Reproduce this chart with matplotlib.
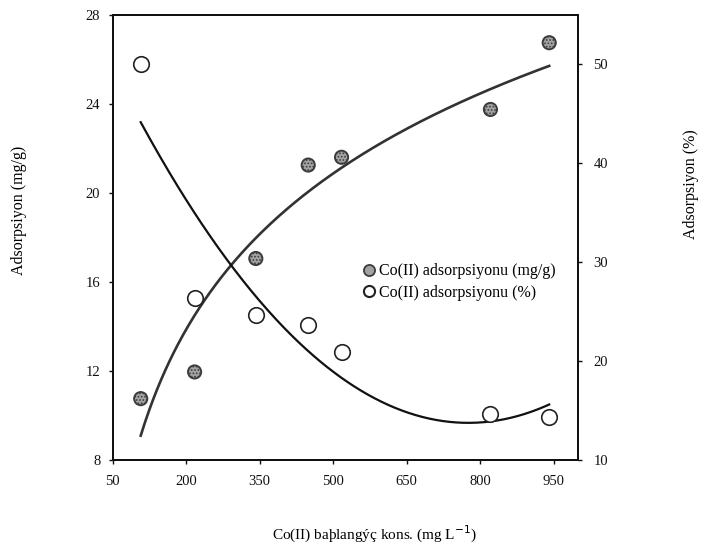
import numpy as np
import matplotlib
matplotlib.use("Agg")
import matplotlib.pyplot as plt
from matplotlib.lines import Line2D

plt.rcParams['font.family'] = ['Liberation Serif', 'DejaVu Serif']
plt.rcParams['hatch.linewidth'] = 0.8

# Initial Co(II) concentration (mg/L)
conc = [107, 217, 342, 449, 517, 821, 941]
# Adsorbed amount (mg/g), left axis
uptake_mg_g = [10.75, 11.95, 17.05, 21.25, 21.6, 23.75, 26.75]
# Adsorption percentage, right axis
uptake_pct = [50.0, 26.4, 24.6, 23.6, 20.9, 14.6, 14.3]

x_ticks = [50, 200, 350, 500, 650, 800, 950]
left_ticks = [8, 12, 16, 20, 24, 28]
right_ticks = [10, 20, 30, 40, 50]

fig = plt.figure(figsize=(7.05, 5.52), dpi=100)
ax = fig.add_axes([0.160, 0.167, 0.660, 0.806])
ax2 = ax.twinx()

# Trend lines: logarithmic for the uptake, second order for the percentage
xs = np.linspace(min(conc), max(conc), 300)
log_coef = np.polyfit(np.log(conc), uptake_mg_g, 1)
fit_mg = np.polyval(log_coef, np.log(xs))
fit_pct = np.polyval(np.polyfit(conc, uptake_pct, 2), xs)

ax.plot(xs, fit_mg, color='#333333', lw=1.9, zorder=2)
ax2.plot(xs, fit_pct, color='#111111', lw=1.6, zorder=2)

ax.scatter(conc, uptake_mg_g, s=90, facecolor='#a2a2a2', edgecolor='#3c3c3c',
           linewidth=1.4, hatch='.....', zorder=3)
ax2.scatter(conc, uptake_pct, s=125, facecolor='white', edgecolor='#222222',
            linewidth=1.2, zorder=3)

ax.set_xlim(50, 1000)
ax.set_ylim(8, 28)
ax2.set_ylim(10, 55)
ax.set_xticks(x_ticks)
ax.set_yticks(left_ticks)
ax2.set_yticks(right_ticks)

for a in (ax, ax2):
    for sp in a.spines.values():
        sp.set_linewidth(1.4)
        sp.set_color('#111111')
    a.tick_params(direction='out', length=3, width=1.0, labelsize=10.5,
                  colors='#111111')
ax.tick_params(axis='x', pad=8)
ax.tick_params(axis='y', pad=6)
ax2.tick_params(axis='y', pad=8)

ax.set_xlabel('Co(II) baþlangýç kons. (mg L$^{-1}$)', fontsize=11)
ax.xaxis.set_label_coords(0.342, -0.145)
ax.xaxis.label.set_horizontalalignment('left')

ax.set_ylabel('Adsorpsiyon (mg/g)', fontsize=11.5)
ax.yaxis.set_label_coords(-0.185, 0.56)
ax2.set_ylabel('Adsorpsiyon (%)', fontsize=11.5, rotation=90)
ax2.yaxis.set_label_coords(1.226, 0.62)

handles = [
    Line2D([], [], ls='none', marker='o', ms=8, mfc='#a2a2a2', mec='#3c3c3c', mew=1.3),
    Line2D([], [], ls='none', marker='o', ms=8, mfc='white', mec='#222222', mew=1.5),
]
ax2.legend(handles, ['Co(II) adsorpsiyonu (mg/g)', 'Co(II) adsorpsiyonu (%)'],
           loc='upper left', bbox_to_anchor=(0.52, 0.456), frameon=False,
           fontsize=11.5, handletextpad=0.1, handlelength=1.0,
           labelspacing=0.35, borderaxespad=0)

fig.savefig('out.png', dpi=100, facecolor='white')
